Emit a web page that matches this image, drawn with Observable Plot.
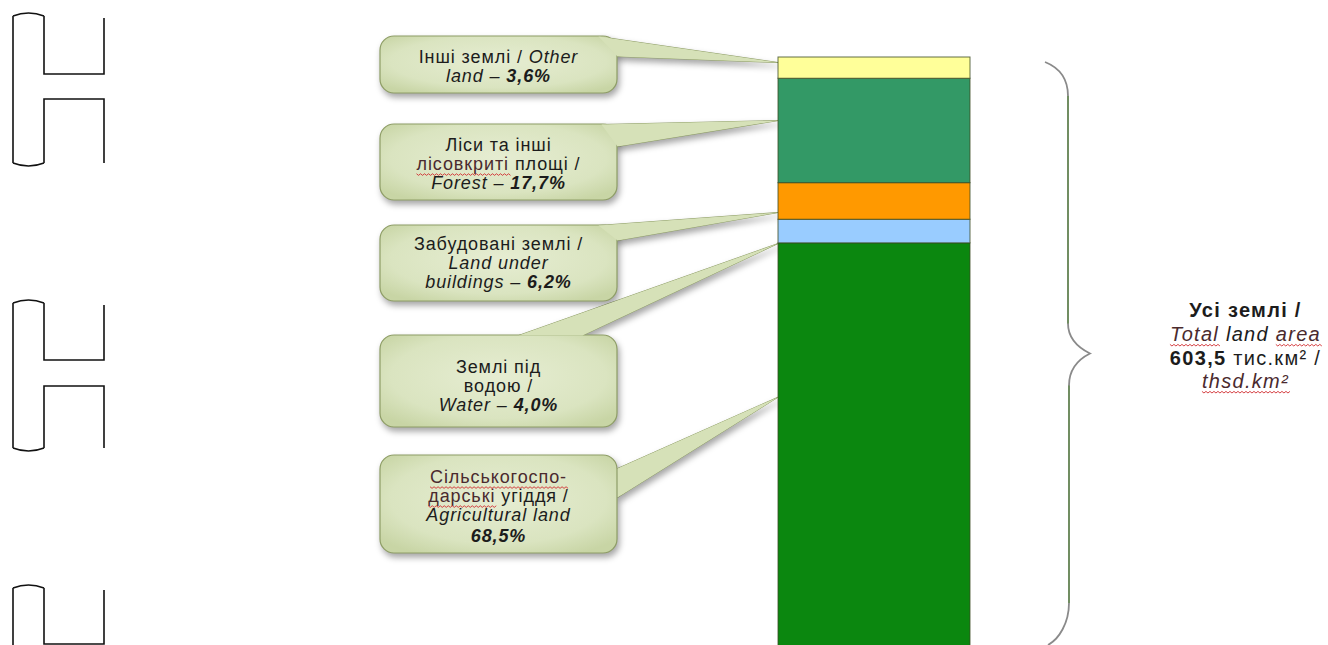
<!DOCTYPE html>
<html>
<head>
<meta charset="utf-8">
<script src="https://cdn.jsdelivr.net/npm/d3@7"></script>
<script src="https://cdn.jsdelivr.net/npm/@observablehq/plot@0.6"></script>
<style>
  html, body { margin: 0; padding: 0; background: #fff; }
  #chart svg { display: block; }
</style>
</head>
<body>
<div id="chart"></div>
<script>
// ---------------- DATA ----------------
const keys = ["agri", "water", "built", "forest", "other"];           // stacked bottom -> top
const categories = [
  "Сільськогосподарські угіддя",
  "Землі під водою",
  "Забудовані землі",
  "Ліси та інші лісовкриті площі",
  "Інші землі"
];
const shares = [68.5, 4.0, 6.2, 17.7, 3.6];                           // % of total land area
const colors = ["#0b870f", "#99ccff", "#ff9900", "#339966", "#ffff99"];
const totalArea = "603,5";                                            // thsd. km²

// callout texts: each line = list of [text, style] ; n normal, i italic, bi bold italic, b bold, w = spell-check underline
const calloutText = {
  other:  [[["Інші землі / ", "n"], ["Other", "i"]],
           [["land – ", "i"], ["3,6%", "bi"]]],
  forest: [[["Ліси та інші", "n"]],
           [["лісовкриті", "nw"], [" площі /", "n"]],
           [["Forest – ", "i"], ["17,7%", "bi"]]],
  built:  [[["Забудовані землі /", "n"]],
           [["Land under", "i"]],
           [["buildings – ", "i"], ["6,2%", "bi"]]],
  water:  [[["Землі під", "n"]],
           [["водою /", "n"]],
           [["Water – ", "i"], ["4,0%", "bi"]]],
  agri:   [[["Сільськогоспо-", "nw"]],
           [["дарські", "nw"], [" угіддя /", "n"]],
           [["Agricultural land", "i"]],
           [["68,5%", "bi"]]]
};
const totalText = [
  [["Усі землі /", "b"]],
  [["Total", "iw"], [" land ", "i"], ["area", "iw"]],
  [[totalArea, "b"], [" тис.км² /", "n"]],
  [["thsd.km²", "iw"]]
];

// ---------------- LAYOUT (pixels) ----------------
const W = 1328, H = 645;
const BAR_X1 = 778, BAR_X2 = 970;
const Y_RANGE = [647, 57];
const Ypx = d3.scaleLinear([0, 100], Y_RANGE);
const TEXT_X = 498;
const layout = {
  other:  {box: [380, 617, 36, 93],   lines: [57, 76],              tipFrac: 0.76, base: [[598, 36], [617, 56]]},
  forest: {box: [380, 617, 124, 200], lines: [145, 164, 183],       tipFrac: 0.60, base: [[601, 124], [617, 146]]},
  built:  {box: [380, 617, 225, 301], lines: [244, 263, 282],       tipFrac: 0.20, base: [[598, 225], [617, 240]]},
  water:  {box: [380, 617, 335, 427], lines: [367, 386, 405],       tipFrac: 0.00, base: [[518, 335], [582, 335]]},
  agri:   {box: [380, 617, 455, 553], lines: [477, 496, 515, 536],  tipFrac: 0.62, base: [[617, 468], [617, 497]]}
};

// ---------------- BUILD TABLES ----------------
const bars = keys.map((k, i) => ({key: k, category: categories[i], share: shares[i]}));
let cum = 0;
const lower = {};
bars.forEach(b => { lower[b.key] = cum; cum += b.share; });

const pointerPts = [];
const boxes = [];
const textLines = [];
keys.forEach((k, i) => {
  const L = layout[k];
  const tipY = lower[k] + L.tipFrac * shares[i];
  const p0 = {key: k, x: L.base[0][0], y: Ypx.invert(L.base[0][1])};
  pointerPts.push(p0,
    {key: k, x: BAR_X1, y: tipY},
    {key: k, x: L.base[1][0], y: Ypx.invert(L.base[1][1])},
    {...p0});
  boxes.push({key: k, x1: L.box[0], x2: L.box[1], y1: Ypx.invert(L.box[2]), y2: Ypx.invert(L.box[3])});
  calloutText[k].forEach((segs, j) => {
    textLines.push({x: TEXT_X, y: Ypx.invert(L.lines[j]), segs, size: 18, text: segs.map(s => s[0]).join("")});
  });
});
const TOTAL_X = 1245, TOTAL_LINES = [310, 334, 358, 381];
totalText.forEach((segs, j) => {
  textLines.push({x: TOTAL_X, y: Ypx.invert(TOTAL_LINES[j]), segs, size: 20, text: segs.map(s => s[0]).join("")});
});

const bubbleFill = "#d6e1b8";
const bubbleStroke = "#8e9d66";

// ---------------- PLOT ----------------
const plot = Plot.plot({
  width: W,
  height: H,
  margin: 0,
  style: {background: "#fff", fontFamily: "'Liberation Sans', Arial, sans-serif"},
  x: {domain: [0, W], range: [0, W], axis: null},
  y: {domain: [0, 100], range: Y_RANGE, axis: null},
  color: {domain: categories, range: colors},
  marks: [
    Plot.line(pointerPts, {x: "x", y: "y", z: "key", fill: bubbleFill, stroke: bubbleStroke, strokeWidth: 1, ariaDescription: "bubble-pointer"}),
    Plot.rect(boxes, {x1: "x1", x2: "x2", y1: "y1", y2: "y2", rx: 14, fill: bubbleFill, stroke: bubbleStroke, strokeWidth: 1.2, ariaDescription: "bubble-box"}),
    Plot.line(pointerPts, {x: "x", y: "y", z: "key", fill: bubbleFill, stroke: "none", ariaDescription: "bubble-join"}),
    Plot.rectY(bars, {x1: BAR_X1, x2: BAR_X2, y: "share", fill: "category", stroke: "#3a4a22", strokeWidth: 1, strokeOpacity: 0.8, ariaDescription: "land-bar"}),
    Plot.text(textLines, {x: "x", y: "y", text: "text", fontSize: "size", fill: "#1c1c1c", textAnchor: "middle", ariaDescription: "labels"})
  ]
});
document.getElementById("chart").appendChild(plot);

// ---------------- POST: rich text, shadows, brace, decorations ----------------
const svg = d3.select(plot);

// soft gradient inside the callout boxes
const defs = svg.insert("defs", ":first-child");
const grad = defs.append("radialGradient").attr("id", "bubbleGrad").attr("cx", "50%").attr("cy", "45%").attr("r", "65%");
grad.append("stop").attr("offset", "0%").attr("stop-color", "#e6edd2");
grad.append("stop").attr("offset", "70%").attr("stop-color", "#dae4c0");
grad.append("stop").attr("offset", "100%").attr("stop-color", "#c8d5a5");
svg.selectAll('[aria-description="bubble-box"] rect').attr("fill", "url(#bubbleGrad)");

svg.selectAll('[aria-description="bubble-pointer"], [aria-description="bubble-box"]')
  .style("filter", "drop-shadow(2px 4px 3px rgba(0,0,0,0.35))");

const wavy = [];
svg.selectAll('[aria-description="labels"] text')
  .each(function (_, i) {
    const line = textLines[i];
    const t = d3.select(this);
    t.attr("letter-spacing", line.size > 18 ? "1.3px" : "0.9px");
    t.text(null);
    line.segs.forEach(([str, st]) => {
      const ts = t.append("tspan").text(str);
      if (st.includes("i")) ts.attr("font-style", "italic");
      if (st.includes("b")) ts.attr("font-weight", "bold");
      if (st.includes("w")) { ts.attr("fill", "#4a2a2e"); wavy.push([this, ts.node()]); }
    });
  });

// red wavy spell-check underlines
wavy.forEach(([textNode, span]) => {
  const n = span.getNumberOfChars();
  if (!n) return;
  const p0 = span.getStartPositionOfChar(0);
  const end = span.getEndPositionOfChar(n - 1);
  const y0 = p0.y + 3.5;
  let d = `M${p0.x},${y0}`;
  for (let x = p0.x, k = 0; x < end.x; x += 2, k++) d += ` L${x + 2},${y0 + (k % 2 ? 0 : 1.6)}`;
  d3.select(textNode.parentNode).append("path")
    .attr("d", d)
    .attr("transform", textNode.getAttribute("transform"))
    .attr("fill", "none").attr("stroke", "#d02c30").attr("stroke-width", 0.9);
});

// curly brace spanning the whole stack
const ys = plot.scale("y");
const yTop = ys.apply(100) + 5, yBot = ys.apply(0) - 2, yMid = (yTop + yBot) / 2;
const xe = 1045, xs = 1068, xc = 1090;
const braceG = svg.append("g").attr("fill", "none");
braceG.append("path")
  .attr("d", `M${xe},${yTop} C${xe + 15},${yTop + 6} ${xs},${yTop + 18} ${xs},${yTop + 34}
              L${xs},${yMid - 30} C${xs},${yMid - 14} ${xc - 10},${yMid - 5} ${xc},${yMid}
              C${xc - 10},${yMid + 5} ${xs + 1},${yMid + 14} ${xs + 1},${yMid + 32}
              L${xs + 1},${yBot - 42} C${xs + 1},${yBot - 22} ${xe + 14},${yBot - 6} ${xe + 3},${yBot}`)
  .attr("stroke", "#8a8a8a").attr("stroke-width", 1.8);
braceG.append("path")
  .attr("d", `M${xs},${yTop + 34} L${xs},${yMid - 30} M${xs + 1},${yMid + 32} L${xs + 1},${yBot - 42}`)
  .attr("stroke", "#5f8a48").attr("stroke-width", 1.3);

// binding marks on the left edge of the scanned page
const deco = svg.append("g").attr("fill", "none").attr("stroke", "#111").attr("stroke-width", 1.6);
[[16, 74, 99, 163], [303, 360, 386, 448], [588, 644, 700, 760]].forEach(([T, a, b, B]) => {
  deco.append("path").attr("d",
    `M13,${T} L13,${B} M44,${T} L44,${a} L104,${a} L104,${T + 2}
     M44,${B} L44,${b} L104,${b} L104,${B}
     M13,${T} Q28.5,${T - 6} 44,${T} M13,${B} Q28.5,${B + 6} 44,${B}`);
});
</script>
</body>
</html>
